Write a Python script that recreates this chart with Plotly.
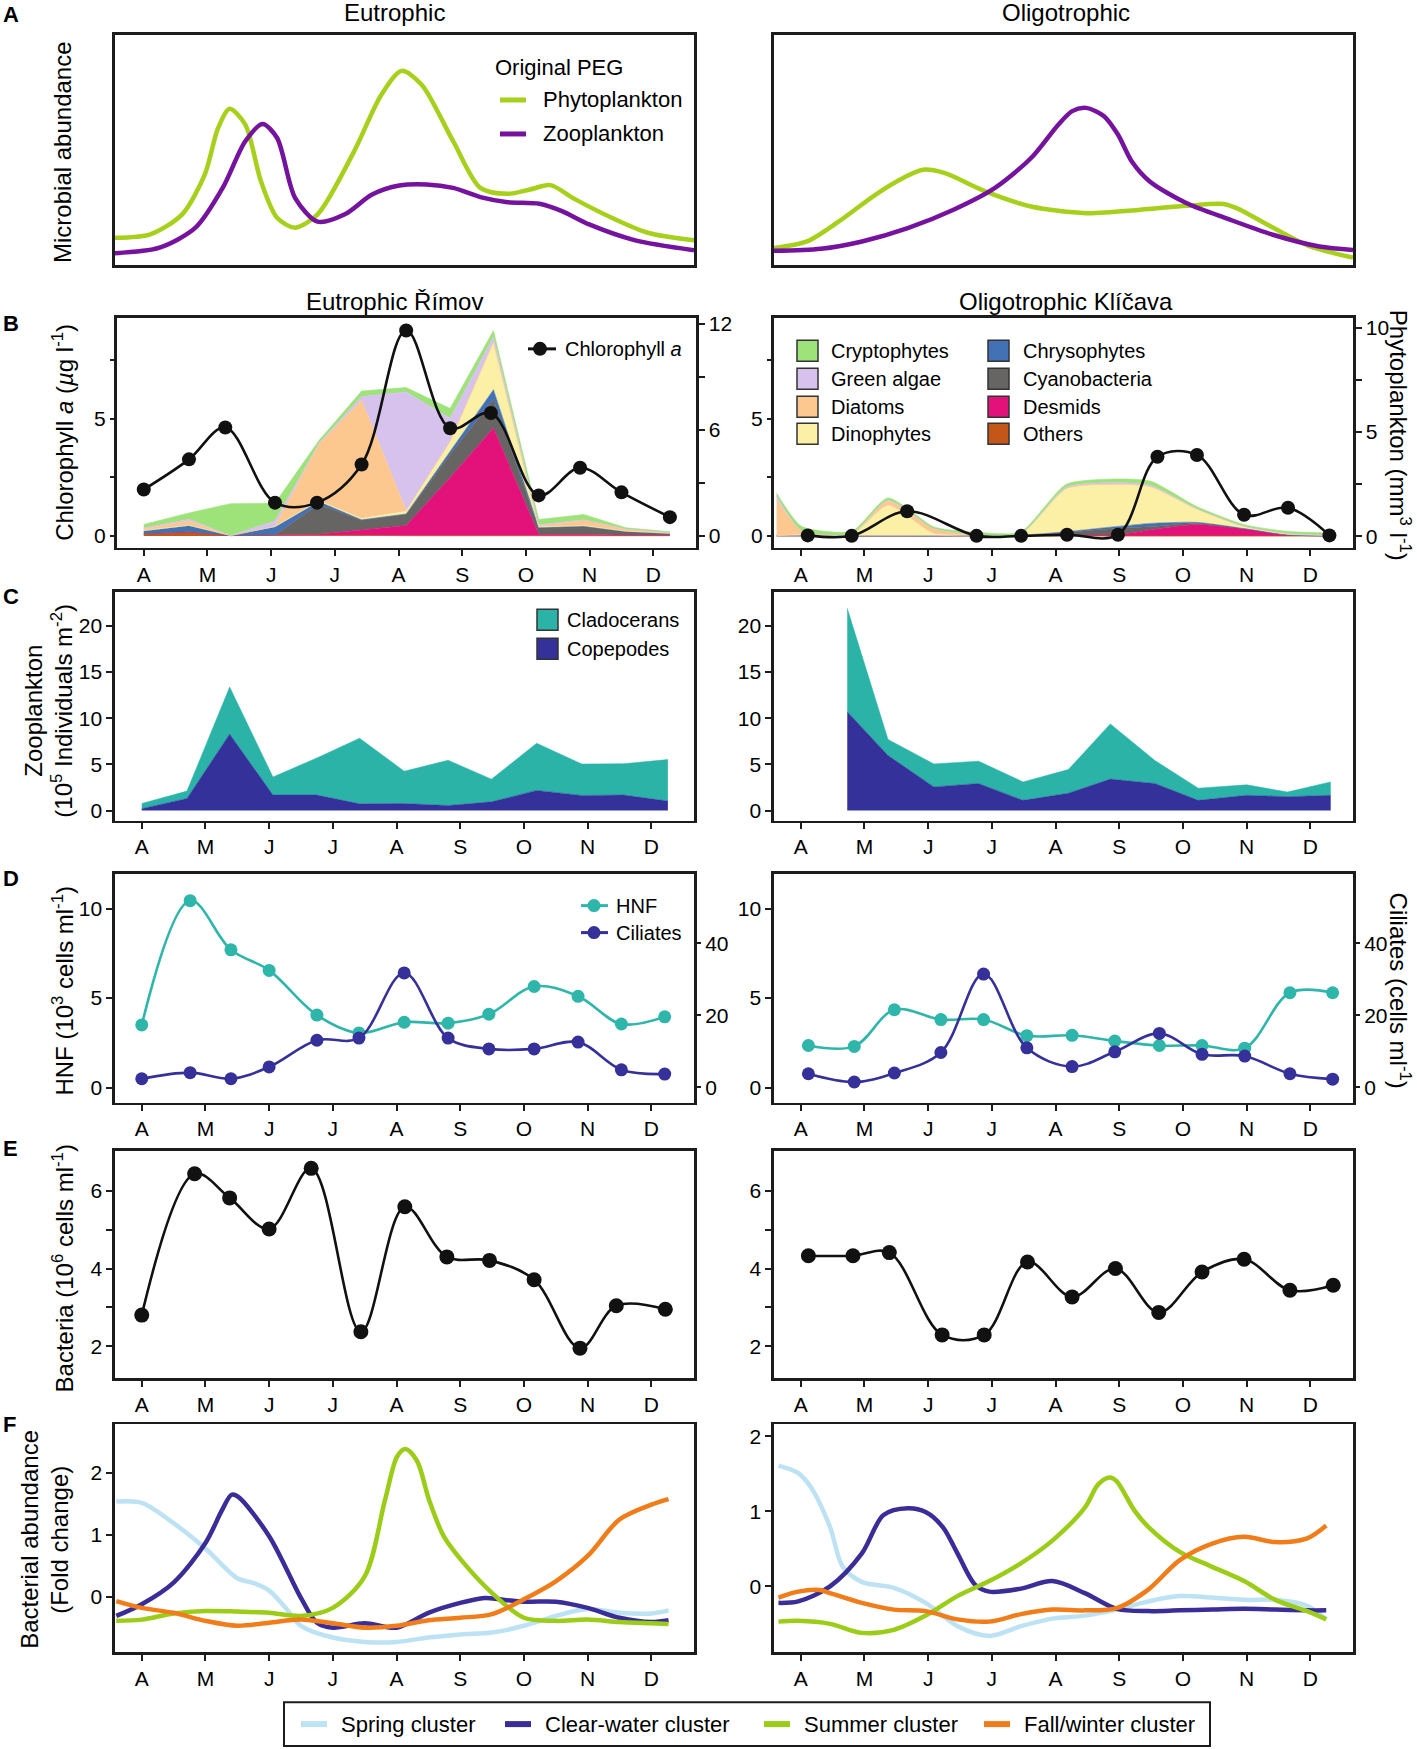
import plotly.graph_objects as go

W, H = 1417, 1749
FONT = "Liberation Sans, Arial, Helvetica, sans-serif"
INK = "#1c1c1c"

MONTH_TICKS = [0, 1, 2, 3, 4, 5, 6, 7, 8]
MONTH_LABELS = ["A", "M", "J", "J", "A", "S", "O", "N", "D"]
X_RANGE = [-0.42, 8.67]

# ---------------- Panel A : conceptual PEG model (arbitrary units) ----------------
pegEu_phyto_x = [0, 6.1, 11.6, 15.5, 17.8, 19.8, 22.5, 25.2, 28, 31.1, 35, 41.3, 46, 49.5, 53, 58.4, 63.1, 67.8, 71.7, 75.2, 79.5, 85.8, 92, 100]
pegEu_phyto_y = [11.8, 13.3, 22, 39.3, 59.5, 67.9, 61, 36.4, 20.5, 16.2, 22, 49.4, 74, 84.4, 78.3, 53.8, 33.5, 30.9, 32.8, 34.7, 28.5, 20.5, 14, 10.7]
pegEu_zoo_x = [0, 7.7, 13.9, 18.6, 22.5, 25.5, 28, 31.1, 35, 39.7, 44.4, 49.1, 53.8, 58.4, 63.1, 67.8, 73.3, 77.2, 81.9, 89.7, 100]
pegEu_zoo_y = [5.1, 7.5, 16.2, 33.5, 53.8, 61.3, 55.2, 29.2, 18.8, 22, 30.6, 34.5, 35, 33.5, 29.5, 27.3, 26.6, 23.4, 17.6, 10.8, 6.4]
pegOl_phyto_x = [0, 5.7, 11.2, 17.5, 22.3, 25.7, 29.4, 36.5, 44.4, 53.9, 63.3, 71.2, 77.6, 79.9, 86.3, 92.6, 100]
pegOl_phyto_y = [7.3, 10.2, 18.9, 30.5, 37.8, 41.4, 40, 32, 25.4, 22.5, 24, 25.7, 26.5, 24.7, 16, 8, 3.2]
pegOl_zoo_x = [0, 8.1, 15.2, 23.1, 31.0, 38.1, 44.4, 49.1, 51.5, 53.9, 57, 59.4, 61.8, 64.9, 71.2, 78.4, 86.3, 94.2, 100]
pegOl_zoo_y = [6.1, 7, 10.2, 16, 24, 33.4, 46.5, 61, 66.9, 68.3, 64.7, 56.7, 45, 36.3, 26.9, 20, 13, 8, 6.5]

# ---------------- Panel B : chlorophyll a & phytoplankton ----------------
rimov_chl_x = [0.0, 0.71, 1.28, 2.06, 2.72, 3.42, 4.12, 4.81, 5.45, 6.20, 6.85, 7.50, 8.26]
rimov_chl = [1.98, 3.27, 4.63, 1.42, 1.42, 3.05, 8.78, 4.6, 5.25, 1.73, 2.91, 1.86, 0.8]
klic_chl_x = [0.11, 0.80, 1.67, 2.76, 3.46, 4.18, 4.98, 5.60, 6.22, 6.96, 7.65, 8.30]
klic_chl = [0.02, 0.0, 1.05, 0.0, 0.0, 0.05, 0.05, 3.38, 3.46, 0.9, 1.2, 0.02]

phyto_groups = ["Others", "Desmids", "Cyanobacteria", "Chrysophytes",
                "Dinophytes", "Diatoms", "Green algae", "Cryptophytes"]
phyto_colors = ["#c4561a", "#e2127a", "#676464", "#4371b6",
                "#fcf0a6", "#fcc890", "#d6c2ec", "#9ee27a"]

rimov_phy_x = [0.0, 0.71, 1.36, 2.06, 2.75, 3.42, 4.12, 4.81, 5.49, 6.20, 6.91, 7.57, 8.26]
rimov_others = [0.1, 0.2, 0.03, 0.05, 0.05, 0.05, 0.02, 0.02, 0.02, 0.05, 0.05, 0.03, 0.02]
rimov_desmids = [0.02, 0.02, 0.0, 0.02, 0.05, 0.3, 0.58, 3.3, 6.1, 0.05, 0.05, 0.02, 0.02]
rimov_cyano = [0.02, 0.02, 0.0, 0.0, 1.7, 0.55, 0.63, 1.3, 1.6, 0.37, 0.45, 0.2, 0.1]
rimov_chryso = [0.15, 0.35, 0.0, 0.45, 0.15, 0.02, 0.02, 0.2, 0.56, 0.02, 0.02, 0.01, 0.01]
rimov_dino = [0.02, 0.02, 0.0, 0.02, 0.05, 0.08, 0.15, 0.5, 2.64, 0.03, 0.02, 0.02, 0.01]
rimov_diatoms = [0.1, 0.25, 0.0, 0.02, 3.2, 6.7, 0.05, 0.05, 0.05, 0.05, 0.3, 0.1, 0.04]
rimov_green = [0.05, 0.1, 0.0, 0.3, 0.05, 0.2, 6.7, 1.3, 0.3, 0.07, 0.03, 0.02, 0.01]
rimov_crypto = [0.2, 0.35, 1.8, 1.0, 0.15, 0.3, 0.25, 0.55, 0.35, 0.3, 0.3, 0.07, 0.04]

klic_phy_x = [-0.38, 0.01, 0.80, 1.37, 2.09, 2.76, 3.45, 4.17, 4.96, 5.50, 6.21, 6.96, 7.63, 8.31]
klic_others = [0.03, 0.03, 0.02, 0.02, 0.02, 0.03, 0.03, 0.02, 0.02, 0.02, 0.02, 0.02, 0.02, 0.02]
klic_desmids = [0.0, 0.0, 0.0, 0.0, 0.0, 0.0, 0.0, 0.02, 0.05, 0.3, 0.55, 0.35, 0.05, 0.0]
klic_cyano = [0.0, 0.0, 0.0, 0.0, 0.0, 0.0, 0.02, 0.15, 0.3, 0.15, 0.05, 0.0, 0.0, 0.0]
klic_chryso = [0.0, 0.0, 0.0, 0.0, 0.0, 0.0, 0.0, 0.03, 0.1, 0.15, 0.05, 0.0, 0.0, 0.0]
klic_dino = [0.0, 0.05, 0.05, 1.45, 0.1, 0.05, 0.05, 2.05, 2.0, 1.73, 0.63, 0.1, 0.05, 0.03]
klic_diatoms = [1.75, 0.2, 0.04, 0.2, 0.25, 0.0, 0.0, 0.03, 0.03, 0.03, 0.02, 0.01, 0.02, 0.01]
klic_green = [0.15, 0.0, 0.0, 0.05, 0.0, 0.0, 0.0, 0.05, 0.08, 0.06, 0.02, 0.0, 0.0, 0.0]
klic_crypto = [0.15, 0.2, 0.13, 0.12, 0.08, 0.12, 0.1, 0.15, 0.17, 0.2, 0.1, 0.08, 0.1, 0.1]

# ---------------- Panel C : zooplankton ----------------
rimov_zoo_x = [0.0, 0.71, 1.38, 2.06, 2.75, 3.42, 4.12, 4.81, 5.49, 6.20, 6.91, 7.57, 8.26]
rimov_copepods = [0.2, 1.3, 8.28, 1.67, 1.67, 0.73, 0.76, 0.54, 0.94, 2.18, 1.63, 1.67, 1.02]
rimov_cladocerans = [0.55, 0.8, 5.1, 1.95, 4.03, 7.1, 3.5, 4.9, 2.45, 5.1, 3.4, 3.4, 4.5]
klic_zoo_x = [0.73, 1.37, 2.09, 2.79, 3.49, 4.20, 4.86, 5.56, 6.24, 7.00, 7.64, 8.32]
klic_copepods = [10.7, 5.97, 2.56, 2.93, 1.1, 1.87, 3.4, 2.93, 1.1, 1.65, 1.5, 1.65]
klic_cladocerans = [11.2, 1.73, 2.49, 2.42, 2.0, 2.56, 5.98, 2.49, 1.32, 1.13, 0.5, 1.45]

# ---------------- Panel D : HNF & ciliates ----------------
rimov_prot_x = [0.0, 0.76, 1.40, 2.0, 2.75, 3.41, 4.12, 4.81, 5.45, 6.16, 6.85, 7.53, 8.21]
rimov_hnf = [3.5, 10.45, 7.7, 6.55, 4.05, 3.05, 3.65, 3.6, 4.1, 5.65, 5.1, 3.55, 3.95]
rimov_cil = [2.4, 4.1, 2.4, 5.7, 13.1, 13.7, 31.8, 13.7, 10.7, 10.7, 12.6, 4.9, 3.7]
klic_prot_x = [0.12, 0.84, 1.47, 2.2, 2.87, 3.55, 4.26, 4.93, 5.63, 6.30, 6.97, 7.68, 8.35]
klic_hnf = [2.35, 2.3, 4.35, 3.8, 3.8, 2.9, 2.92, 2.6, 2.35, 2.35, 2.2, 5.3, 5.3]
klic_cil = [3.8, 1.5, 4.0, 9.7, 31.5, 11.0, 5.8, 9.9, 15.0, 9.2, 8.7, 3.8, 2.3]

# ---------------- Panel E : bacteria ----------------
rimov_bac_x = [0.0, 0.83, 1.38, 2.0, 2.66, 3.44, 4.13, 4.79, 5.46, 6.16, 6.88, 7.45, 8.22]
rimov_bac = [2.8, 6.44, 5.82, 5.02, 6.58, 2.37, 5.59, 4.3, 4.21, 3.71, 1.95, 3.04, 2.95]
klic_bac_x = [0.12, 0.82, 1.39, 2.22, 2.88, 3.56, 4.26, 4.94, 5.62, 6.30, 6.96, 7.68, 8.36]
klic_bac = [4.33, 4.33, 4.41, 2.29, 2.29, 4.17, 3.27, 4.0, 2.87, 3.91, 4.24, 3.44, 3.57]

# ---------------- Panel F : bacterial clusters (fold change) ----------------
rimov_spring_x = [-0.4, 0, 0.5, 1.0, 1.5, 1.76, 2.0, 2.25, 2.5, 3.0, 3.5, 4.0, 4.5, 5.0, 5.5, 6.0, 6.5, 7.0, 7.5, 8.0, 8.27]
rimov_spring = [1.54, 1.52, 1.19, 0.78, 0.3, 0.22, 0.1, -0.17, -0.47, -0.66, -0.73, -0.73, -0.66, -0.61, -0.58, -0.47, -0.31, -0.2, -0.26, -0.27, -0.22]
rimov_clear_x = [-0.4, 0, 0.5, 1.0, 1.26, 1.41, 1.51, 2.0, 2.51, 2.75, 3.0, 3.5, 4.0, 4.5, 5.0, 5.38, 5.52, 6.0, 6.5, 7.0, 7.5, 8.0, 8.27]
rimov_clear = [-0.31, -0.12, 0.23, 0.87, 1.4, 1.65, 1.62, 0.98, -0.04, -0.42, -0.5, -0.43, -0.5, -0.26, -0.1, -0.02, -0.03, -0.08, -0.08, -0.18, -0.34, -0.41, -0.38]
rimov_summer_x = [-0.4, 0, 0.5, 1.0, 1.5, 2.0, 2.5, 3.0, 3.5, 3.82, 4.01, 4.14, 4.32, 4.51, 4.74, 5.01, 5.5, 6.0, 6.5, 7.0, 7.5, 8.0, 8.27]
rimov_summer = [-0.39, -0.37, -0.27, -0.23, -0.24, -0.26, -0.31, -0.18, 0.33, 1.57, 2.27, 2.39, 2.2, 1.57, 0.98, 0.6, 0.06, -0.34, -0.39, -0.37, -0.41, -0.43, -0.44]
rimov_fall_x = [-0.4, 0, 0.5, 1.0, 1.5, 2.0, 2.5, 3.0, 3.5, 4.0, 4.5, 5.0, 5.5, 6.0, 6.5, 7.0, 7.5, 8.0, 8.27]
rimov_fall = [-0.07, -0.18, -0.26, -0.39, -0.47, -0.42, -0.37, -0.43, -0.5, -0.47, -0.38, -0.34, -0.28, -0.04, 0.25, 0.66, 1.25, 1.49, 1.58]

klic_spring_x = [-0.35, -0.04, 0.16, 0.46, 0.66, 0.96, 1.46, 1.96, 2.46, 2.96, 3.46, 3.95, 4.46, 4.96, 5.46, 5.95, 6.46, 6.96, 7.45, 7.95, 8.25]
klic_spring = [1.61, 1.51, 1.32, 0.79, 0.26, 0.06, -0.02, -0.22, -0.53, -0.66, -0.53, -0.43, -0.39, -0.31, -0.2, -0.13, -0.15, -0.18, -0.18, -0.26, -0.44]
klic_clear_x = [-0.35, -0.04, 0.46, 0.96, 1.30, 1.68, 1.96, 2.23, 2.46, 2.74, 2.96, 3.46, 3.95, 4.46, 4.96, 5.46, 5.95, 6.46, 6.96, 7.45, 7.95, 8.25]
klic_clear = [-0.22, -0.2, 0.0, 0.44, 0.95, 1.04, 0.99, 0.79, 0.44, 0.02, -0.07, -0.03, 0.07, -0.09, -0.3, -0.33, -0.32, -0.31, -0.3, -0.31, -0.32, -0.32]
klic_summer_x = [-0.35, -0.04, 0.46, 0.96, 1.46, 1.96, 2.46, 2.96, 3.46, 3.95, 4.46, 4.67, 4.85, 4.96, 5.24, 5.46, 5.95, 6.46, 6.96, 7.45, 7.95, 8.25]
klic_summer = [-0.47, -0.46, -0.5, -0.62, -0.58, -0.39, -0.13, 0.07, 0.31, 0.61, 1.05, 1.36, 1.45, 1.4, 1.01, 0.79, 0.46, 0.26, 0.07, -0.18, -0.33, -0.44]
klic_fall_x = [-0.35, -0.04, 0.3, 0.46, 0.96, 1.46, 1.96, 2.46, 2.96, 3.46, 3.95, 4.46, 4.96, 5.46, 5.95, 6.46, 6.96, 7.45, 7.95, 8.25]
klic_fall = [-0.15, -0.07, -0.05, -0.09, -0.22, -0.31, -0.33, -0.44, -0.47, -0.37, -0.31, -0.32, -0.29, -0.04, 0.35, 0.57, 0.66, 0.59, 0.64, 0.81]

# colours
C_PHY = "#a7d01c"
C_ZOO = "#75139f"
C_CLAD = "#2bb3a8"
C_COPE = "#34329a"
C_HNF = "#2fb6ab"
C_CIL = "#35309a"
C_SPRING = "#bce2f3"
C_CLEAR = "#3a2d98"
C_SUMMER = "#9bcc18"
C_FALL = "#f07d1a"
C_BLACK = "#111111"


def px(x):
    return x / W


def py(y):
    # small vertical correction measured against the reference (larger near the top)
    if y < 1400:
        y = y - 5.0 * (1 - y / 1400.0)
    return 1 - y / H


def xdom(x0, x1):
    return [px(x0), px(x1)]


def ydom(y0, y1):
    return [py(y1), py(y0)]


TICKFONT = dict(family=FONT, size=21, color="black")


def xaxis_cfg(dom, anchor, months=True, rng=None):
    d = dict(domain=dom, anchor=anchor, showline=True, mirror=True, linecolor=INK,
             linewidth=2.6, showgrid=False, zeroline=False, fixedrange=True)
    if months:
        d.update(range=X_RANGE, ticks="outside", ticklen=6, tickwidth=2, tickcolor=INK,
                 tickmode="array", tickvals=MONTH_TICKS, ticktext=MONTH_LABELS, tickfont=TICKFONT)
    else:
        d.update(range=rng, ticks="", showticklabels=False)
    return d


def yaxis_cfg(dom, anchor, rng, tv=None, minor=None, side="left", overlaying=None):
    d = dict(anchor=anchor, range=rng, side=side, showgrid=False, zeroline=False, fixedrange=True)
    if overlaying:
        d["overlaying"] = overlaying
        d["showline"] = False
    else:
        d.update(domain=dom, showline=True, mirror=True, linecolor=INK, linewidth=2.6)
    if tv is None:
        d.update(ticks="", showticklabels=False)
    else:
        d.update(ticks="outside", ticklen=6, tickwidth=2, tickcolor=INK, tickmode="array",
                 tickvals=tv, ticktext=[("%g" % v) for v in tv], tickfont=TICKFONT)
        if minor:
            d["minor"] = dict(tickmode="array", tickvals=minor, ticks="outside", ticklen=6,
                              tickwidth=2, tickcolor=INK, showgrid=False)
    return d


LX = (115, 694)
RX = (774, 1353)
BOX = {
    "A": (34, 264), "B": (317, 547), "C": (591, 820),
    "D": (873, 1102), "E": (1150, 1378), "F": (1424, 1653),
}

fig = go.Figure()
layout = dict(width=W, height=H, margin=dict(l=0, r=0, t=0, b=0), autosize=False,
              paper_bgcolor="white", plot_bgcolor="white", showlegend=False,
              font=dict(family=FONT, color="black"))

layout["xaxis"] = xaxis_cfg(xdom(*LX), "y", months=False, rng=[0, 100])
layout["yaxis"] = yaxis_cfg(ydom(*BOX["A"]), "x", [0, 100])
layout["xaxis2"] = xaxis_cfg(xdom(*RX), "y2", months=False, rng=[0, 100])
layout["yaxis2"] = yaxis_cfg(ydom(*BOX["A"]), "x2", [0, 100])
layout["xaxis3"] = xaxis_cfg(xdom(117, 696), "y3")
layout["yaxis3"] = yaxis_cfg(ydom(*BOX["B"]), "x3", [-0.66, 12.34], [0, 6, 12], [3, 9], side="right")
layout["yaxis4"] = yaxis_cfg(None, "x3", [-0.51, 9.32], [0, 5], [2.5, 7.5], side="left", overlaying="y3")
layout["xaxis4"] = xaxis_cfg(xdom(*RX), "y5")
layout["yaxis5"] = yaxis_cfg(ydom(*BOX["B"]), "x4", [-0.55, 10.48], [0, 5, 10], [2.5, 7.5], side="right")
layout["yaxis6"] = yaxis_cfg(None, "x4", [-0.51, 9.32], [0, 5], [2.5, 7.5], side="left", overlaying="y5")
layout["xaxis5"] = xaxis_cfg(xdom(*LX), "y7")
layout["yaxis7"] = yaxis_cfg(ydom(*BOX["C"]), "x5", [-1.1, 23.7], [0, 5, 10, 15, 20])
layout["xaxis6"] = xaxis_cfg(xdom(*RX), "y8")
layout["yaxis8"] = yaxis_cfg(ydom(*BOX["C"]), "x6", [-1.1, 23.7], [0, 5, 10, 15, 20])
layout["xaxis7"] = xaxis_cfg(xdom(*LX), "y9")
layout["yaxis9"] = yaxis_cfg(ydom(*BOX["D"]), "x7", [-0.84, 11.96], [0, 5, 10])
layout["yaxis10"] = yaxis_cfg(None, "x7", [-4.2, 59.4], [0, 20, 40], side="right", overlaying="y9")
layout["xaxis8"] = xaxis_cfg(xdom(*RX), "y11")
layout["yaxis11"] = yaxis_cfg(ydom(*BOX["D"]), "x8", [-0.84, 11.96], [0, 5, 10])
layout["yaxis12"] = yaxis_cfg(None, "x8", [-4.2, 59.4], [0, 20, 40], side="right", overlaying="y11")
layout["xaxis9"] = xaxis_cfg(xdom(*LX), "y13")
layout["yaxis13"] = yaxis_cfg(ydom(*BOX["E"]), "x9", [1.17, 7.04], [2, 4, 6], [3, 5])
layout["xaxis10"] = xaxis_cfg(xdom(*RX), "y14")
layout["yaxis14"] = yaxis_cfg(ydom(*BOX["E"]), "x10", [1.17, 7.04], [2, 4, 6], [3, 5])
layout["xaxis11"] = xaxis_cfg(xdom(*LX), "y15")
layout["yaxis15"] = yaxis_cfg(ydom(*BOX["F"]), "x11", [-0.9, 2.79], [0, 1, 2])
layout["xaxis12"] = xaxis_cfg(xdom(*RX), "y16")
layout["yaxis16"] = yaxis_cfg(ydom(*BOX["F"]), "x12", [-0.88, 2.16], [0, 1, 2])


def line(x, y, color, width, xa, ya, markers=None, smoothing=1.0):
    kw = dict(x=x, y=y, xaxis=xa, yaxis=ya, hoverinfo="skip",
              line=dict(color=color, width=width, shape="spline", smoothing=smoothing))
    if markers:
        kw["mode"] = "lines+markers"
        kw["marker"] = dict(color=color, size=markers)
    else:
        kw["mode"] = "lines"
    return go.Scatter(**kw)


fig.add_trace(line(pegEu_phyto_x, pegEu_phyto_y, C_PHY, 4.5, "x", "y", smoothing=0.8))
fig.add_trace(line(pegEu_zoo_x, pegEu_zoo_y, C_ZOO, 4.5, "x", "y", smoothing=0.8))
fig.add_trace(line(pegOl_phyto_x, pegOl_phyto_y, C_PHY, 4.5, "x2", "y2", smoothing=0.8))
fig.add_trace(line(pegOl_zoo_x, pegOl_zoo_y, C_ZOO, 4.5, "x2", "y2", smoothing=0.8))

rimov_layers = [rimov_others, rimov_desmids, rimov_cyano, rimov_chryso,
                rimov_dino, rimov_diatoms, rimov_green, rimov_crypto]
klic_layers = [klic_others, klic_desmids, klic_cyano, klic_chryso,
               klic_dino, klic_diatoms, klic_green, klic_crypto]
for name, col, vals in zip(phyto_groups, phyto_colors, rimov_layers):
    fig.add_trace(go.Scatter(x=rimov_phy_x, y=vals, name=name, stackgroup="rimov", mode="lines",
                             line=dict(width=0.6, color=col), fillcolor=col,
                             xaxis="x3", yaxis="y3", hoverinfo="skip"))
for name, col, vals in zip(phyto_groups, phyto_colors, klic_layers):
    fig.add_trace(go.Scatter(x=klic_phy_x, y=vals, name=name, stackgroup="klic", mode="lines",
                             line=dict(width=0.6, color=col, shape="spline", smoothing=0.6),
                             fillcolor=col, xaxis="x4", yaxis="y5", hoverinfo="skip"))
fig.add_trace(line(rimov_chl_x, rimov_chl, C_BLACK, 2.6, "x3", "y4", markers=14))
fig.add_trace(line(klic_chl_x, klic_chl, C_BLACK, 2.6, "x4", "y6", markers=14))

for xs, cope, clad, xa, ya, grp in [(rimov_zoo_x, rimov_copepods, rimov_cladocerans, "x5", "y7", "zr"),
                                     (klic_zoo_x, klic_copepods, klic_cladocerans, "x6", "y8", "zk")]:
    fig.add_trace(go.Scatter(x=xs, y=cope, stackgroup=grp, mode="lines", line=dict(width=0.5, color=C_COPE),
                             fillcolor=C_COPE, xaxis=xa, yaxis=ya, hoverinfo="skip", name="Copepodes"))
    fig.add_trace(go.Scatter(x=xs, y=clad, stackgroup=grp, mode="lines", line=dict(width=0.5, color=C_CLAD),
                             fillcolor=C_CLAD, xaxis=xa, yaxis=ya, hoverinfo="skip", name="Cladocerans"))

fig.add_trace(line(rimov_prot_x, rimov_hnf, C_HNF, 2.6, "x7", "y9", markers=13))
fig.add_trace(line(rimov_prot_x, rimov_cil, C_CIL, 2.6, "x7", "y10", markers=13))
fig.add_trace(line(klic_prot_x, klic_hnf, C_HNF, 2.6, "x8", "y11", markers=13))
fig.add_trace(line(klic_prot_x, klic_cil, C_CIL, 2.6, "x8", "y12", markers=13))

fig.add_trace(line(rimov_bac_x, rimov_bac, C_BLACK, 2.6, "x9", "y13", markers=15))
fig.add_trace(line(klic_bac_x, klic_bac, C_BLACK, 2.6, "x10", "y14", markers=15))

for xs, ys, col in [(rimov_spring_x, rimov_spring, C_SPRING), (rimov_clear_x, rimov_clear, C_CLEAR),
                    (rimov_summer_x, rimov_summer, C_SUMMER), (rimov_fall_x, rimov_fall, C_FALL)]:
    fig.add_trace(line(xs, ys, col, 4.5, "x11", "y15", smoothing=0.9))
for xs, ys, col in [(klic_spring_x, klic_spring, C_SPRING), (klic_clear_x, klic_clear, C_CLEAR),
                    (klic_summer_x, klic_summer, C_SUMMER), (klic_fall_x, klic_fall, C_FALL)]:
    fig.add_trace(line(xs, ys, col, 4.5, "x12", "y16", smoothing=0.9))

ann = []
shapes = []


def text(x, y, s, size=20, xanchor="left", angle=0, bold=False):
    if bold:
        s = "<b>" + s + "</b>"
    ann.append(dict(x=px(x), y=py(y), xref="paper", yref="paper", text=s, showarrow=False,
                    xanchor=xanchor, yanchor="middle", textangle=angle,
                    font=dict(family=FONT, size=size, color="black")))


def seg(x0, x1, y, color, width):
    shapes.append(dict(type="line", xref="paper", yref="paper", x0=px(x0), x1=px(x1),
                       y0=py(y), y1=py(y), line=dict(color=color, width=width)))


def dot(xc, yc, r, color):
    shapes.append(dict(type="circle", xref="paper", yref="paper", x0=px(xc - r), x1=px(xc + r),
                       y0=py(yc + r), y1=py(yc - r), fillcolor=color, line=dict(color=color, width=0)))


def square(x0, yc, color, size=21):
    shapes.append(dict(type="rect", xref="paper", yref="paper", x0=px(x0), x1=px(x0 + size),
                       y0=py(yc + size / 2), y1=py(yc - size / 2), fillcolor=color,
                       line=dict(color="#333333", width=1.5)))


for letter, yy in [("A", 13), ("B", 323), ("C", 596), ("D", 878), ("E", 1148), ("F", 1424)]:
    text(1, yy, letter, size=22, bold=True)

text(394, 11, "Eutrophic", size=24, xanchor="center")
text(1066, 11, "Oligotrophic", size=24, xanchor="center")
text(394, 301, "Eutrophic Římov", size=24, xanchor="center")
text(1066, 301, "Oligotrophic Klíčava", size=24, xanchor="center")

text(63, 152, "Microbial abundance", size=24, xanchor="center", angle=-90)
text(63, 432, "Chlorophyll <i>a</i> (<i>µ</i>g l<sup>-1</sup>)", size=24, xanchor="center", angle=-90)
text(34, 710, "Zooplankton", size=24, xanchor="center", angle=-90)
text(62, 710, "(10<sup>5</sup> Individuals m<sup>-2</sup>)", size=24, xanchor="center", angle=-90)
text(63, 990, "HNF (10<sup>3</sup> cells ml<sup>-1</sup>)", size=24, xanchor="center", angle=-90)
text(63, 1268, "Bacteria (10<sup>6</sup> cells ml<sup>-1</sup>)", size=24, xanchor="center", angle=-90)
text(30, 1540, "Bacterial abundance", size=24, xanchor="center", angle=-90)
text(60, 1540, "(Fold change)", size=24, xanchor="center", angle=-90)
text(1400, 434, "Phytoplankton (mm<sup>3</sup> l<sup>-1</sup>)", size=24, xanchor="center", angle=90)
text(1400, 990, "Ciliates (cells ml<sup>-1</sup>)", size=24, xanchor="center", angle=90)

text(493, 67, "Original PEG", size=22)
seg(500, 526, 99, C_PHY, 5)
text(541, 99, "Phytoplankton", size=22)
seg(500, 526, 133, C_ZOO, 5)
text(541, 133, "Zooplankton", size=22)

seg(528, 556, 348, C_BLACK, 3)
dot(540, 348, 7, C_BLACK)
text(563, 348, "Chlorophyll <i>a</i>")

col1 = [("Cryptophytes", "#9ee27a"), ("Green algae", "#d6c2ec"), ("Diatoms", "#fcc890"), ("Dinophytes", "#fcf0a6")]
col2 = [("Chrysophytes", "#4371b6"), ("Cyanobacteria", "#676464"), ("Desmids", "#e2127a"), ("Others", "#c4561a")]
rows = [350, 378, 406, 433]
for (nm, cl), yy in zip(col1, rows):
    square(797, yy, cl)
    text(829, yy, nm)
for (nm, cl), yy in zip(col2, rows):
    square(988, yy, cl)
    text(1021, yy, nm)

square(537, 619, C_CLAD)
text(565, 619, "Cladocerans")
square(537, 648, C_COPE)
text(565, 648, "Copepodes")

seg(581, 608, 905, C_HNF, 3)
dot(594, 905, 6.5, C_HNF)
text(614, 905, "HNF")
seg(581, 608, 932, C_CIL, 3)
dot(594, 932, 6.5, C_CIL)
text(614, 932, "Ciliates")

shapes.append(dict(type="rect", xref="paper", yref="paper", x0=px(284), x1=px(1210),
                   y0=py(1747), y1=py(1703), line=dict(color=INK, width=2), fillcolor="rgba(0,0,0,0)"))
for x0, nm, cl in [(301, "Spring cluster", C_SPRING), (505, "Clear-water cluster", C_CLEAR),
                   (764, "Summer cluster", C_SUMMER), (984, "Fall/winter cluster", C_FALL)]:
    seg(x0, x0 + 26, 1725, cl, 6)
    text(x0 + 38, 1725, nm, size=22)

layout["annotations"] = ann
layout["shapes"] = shapes
fig.update_layout(**layout)
fig.write_html("out.html", config={"displayModeBar": False, "staticPlot": True},
               post_script="document.body.style.margin='0px';")
